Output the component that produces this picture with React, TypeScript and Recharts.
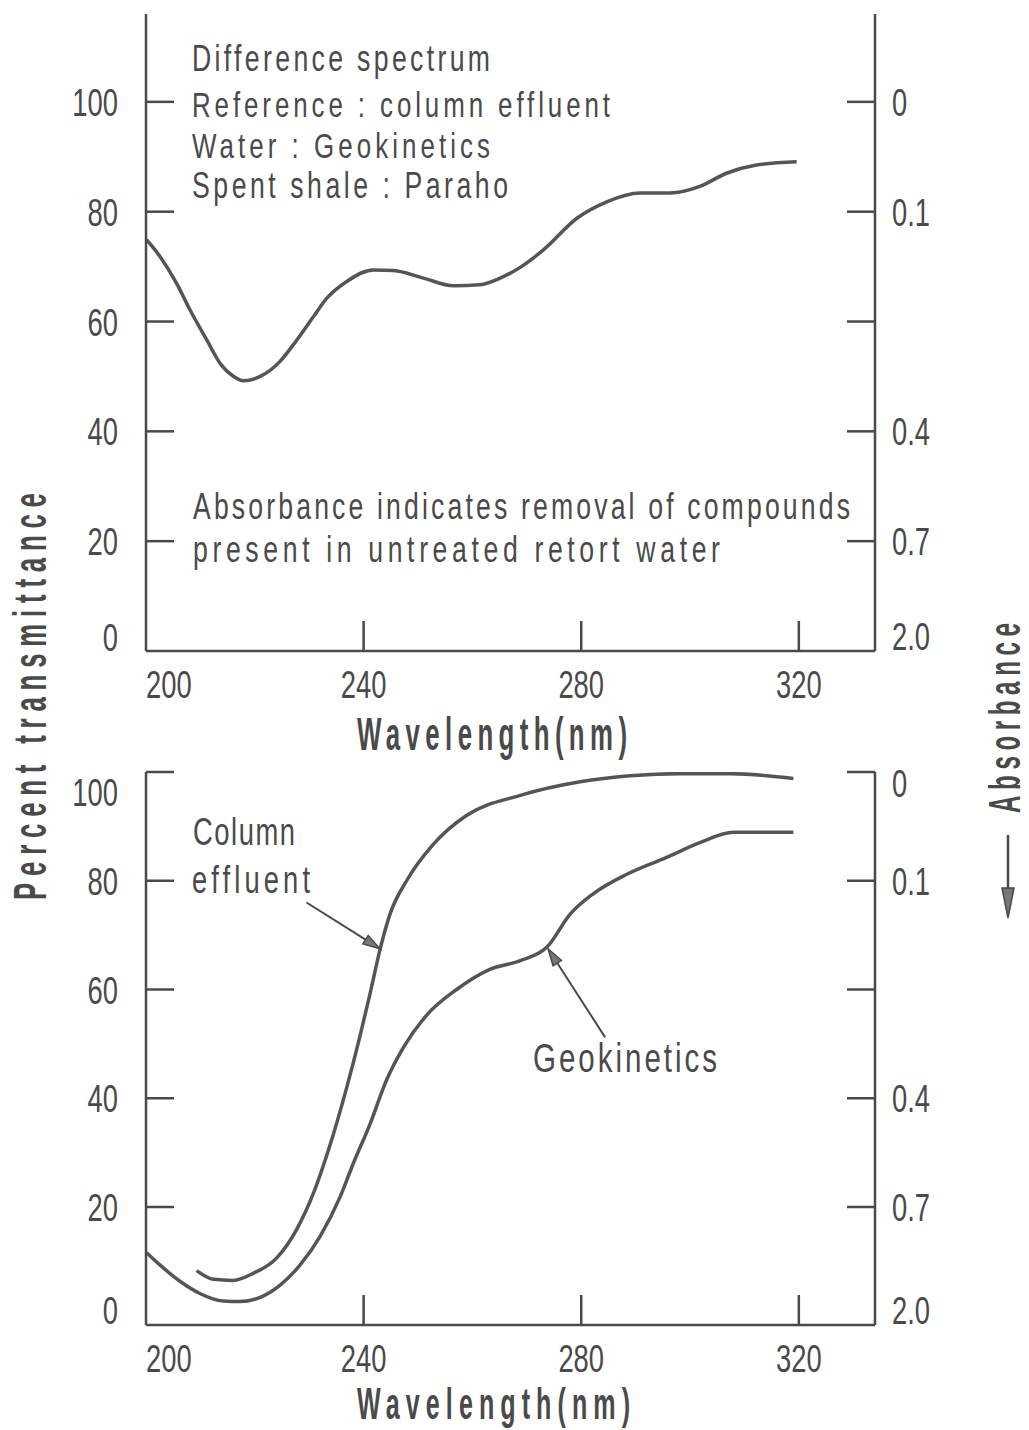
import { Line, LineChart, ReferenceLine, XAxis, YAxis } from "recharts";

const FONT = "'Liberation Sans', Arial, Helvetica, sans-serif";
const INK = "#4a4a4a";

// axes
const wavelengthTicks = [200, 240, 280, 320];
const frameTicks = [240, 280, 320];
const transmittanceTicks = [0, 20, 40, 60, 80, 100];
const absorbanceLabels = ["2.0", "0.7", "0.4", "", "0.1", "0"];

// top panel: difference spectrum (reference = column effluent)
const diffNm = [200.1, 202.6, 205.6, 208.1, 211.2, 213.6, 216.1, 217.9, 221.0, 224.6, 227.7, 230.8, 233.2, 236.9, 241.8, 245.5, 251.0, 256.5, 261.4, 265.1, 269.0, 273.0, 279.2, 284.7, 290.8, 296.3, 301.8, 306.7, 312.2, 319.6];
const diffT = [74.9, 71.8, 67.0, 62.1, 56.6, 52.4, 50.0, 49.2, 50.0, 52.7, 56.6, 60.9, 64.2, 67.3, 69.4, 69.3, 67.9, 66.5, 66.7, 67.9, 70.0, 73.0, 78.8, 81.8, 83.4, 83.4, 84.6, 87.0, 88.5, 89.1];

// bottom panel: column effluent
const effluentNm = [209.3, 212.4, 216.0, 219.7, 224.0, 227.7, 230.8, 233.8, 236.9, 239.3, 241.2, 243.0, 244.9, 247.9, 252.8, 258.9, 268.8, 279.8, 289.0, 298.2, 307.4, 319.0];
const effluentT = [8.3, 6.7, 6.5, 7.8, 10.6, 15.9, 22.6, 31.3, 42.0, 51.3, 59.3, 67.3, 74.0, 80.0, 86.7, 92.0, 95.7, 98.2, 99.3, 99.7, 99.7, 98.8];

// bottom panel: Geokinetics retort water
const geoNm = [200.1, 202.6, 206.3, 209.9, 214.2, 217.3, 221.0, 224.6, 228.3, 232.0, 235.7, 238.1, 241.2, 244.2, 247.3, 251.6, 257.1, 263.2, 268.8, 273.7, 278.0, 282.2, 288.4, 295.7, 301.8, 308.0, 319.0];
const geoT = [11.6, 9.3, 6.3, 4.1, 2.7, 2.6, 3.4, 5.6, 9.3, 14.6, 21.9, 28.0, 35.3, 43.3, 49.3, 55.3, 60.0, 63.7, 65.3, 67.8, 73.9, 77.6, 81.2, 84.3, 87.0, 88.9, 88.9];

// annotation arrows (nm, %T)
const effluentArrow = [{ x: 229.5, y: 76.0 }, { x: 243.0, y: 67.5 }];
const geoArrow = [{ x: 284.4, y: 51.2 }, { x: 273.9, y: 67.5 }];

const toPoints = (nm: number[], t: number[]) => nm.map((x, i) => ({ nm: x, t: t[i] }));

function Txt({ x, y, w, size, sx = 0.72, anchor = "start", rotate = 0, bold = false, children }: any) {
  return (
    <g transform={`translate(${x} ${y}) rotate(${rotate}) scale(${sx} 1)`}>
      <text
        x={0}
        y={0}
        fontSize={size}
        fontFamily={FONT}
        fontWeight={bold ? 700 : 400}
        fill={INK}
        textAnchor={anchor}
        {...(w ? { textLength: w / sx, lengthAdjust: "spacing" } : {})}
      >
        {children}
      </text>
    </g>
  );
}

function leftTick(shift: Record<number, number>) {
  return ({ x, y, payload }: any) => {
    const v = payload.value;
    return (
      <g>
        {v !== 0 && <line x1={x} y1={y} x2={x + 28} y2={y} stroke={INK} strokeWidth={2.5} />}
        <Txt x={x - 28} y={y + 14 + (shift[v] ?? 0)} size={38} anchor="end">
          {String(v)}
        </Txt>
      </g>
    );
  };
}

function rightTick(shift: Record<number, number>) {
  return ({ x, y, payload }: any) => {
    const v = payload.value;
    const label = absorbanceLabels[transmittanceTicks.indexOf(v)];
    return (
      <g>
        {v !== 0 && <line x1={x - 28} y1={y} x2={x} y2={y} stroke={INK} strokeWidth={2.5} />}
        <Txt x={x + 17} y={y + 14 + (shift[v] ?? 0)} size={38}>
          {label}
        </Txt>
      </g>
    );
  };
}

function BottomTick({ x, y, payload }: any) {
  const v = payload.value;
  return (
    <g>
      {v !== 200 && <line x1={x} y1={y} x2={x} y2={y - 30} stroke={INK} strokeWidth={2.5} />}
      <Txt x={x} y={y + 47} size={38} anchor={v === 200 ? "start" : "middle"}>
        {String(v)}
      </Txt>
    </g>
  );
}

function TopTick({ x, y }: any) {
  return <line x1={x} y1={y} x2={x} y2={y + 26} stroke={INK} strokeWidth={2.5} />;
}

function Arrow({ x1, y1, x2, y2 }: any) {
  const a = Math.atan2(y2 - y1, x2 - x1);
  const len = 17;
  const hw = 5;
  const bx = x2 - len * Math.cos(a);
  const by = y2 - len * Math.sin(a);
  const px = -Math.sin(a) * hw;
  const py = Math.cos(a) * hw;
  return (
    <g>
      <line x1={x1} y1={y1} x2={bx} y2={by} stroke={INK} strokeWidth={2} />
      <polygon points={`${x2},${y2} ${bx + px},${by + py} ${bx - px},${by - py}`} fill="#777" stroke={INK} strokeWidth={1.5} />
    </g>
  );
}

function Panel({ series, yDomain, top, height, marginTop, xAxisHeight, leftShift, rightShift, arrows }: any) {
  const axisLine = { stroke: INK, strokeWidth: 2.5 };
  return (
    <div style={{ position: "absolute", left: 0, top, width: 1029, height }}>
      <LineChart width={1029} height={height} margin={{ top: marginTop, right: 0, bottom: 0, left: 0 }}>
        <XAxis
          dataKey="nm"
          type="number"
          domain={[200, 334]}
          ticks={wavelengthTicks}
          interval={0}
          allowDataOverflow
          height={xAxisHeight}
          tickSize={0}
          tickMargin={0}
          tickLine={false}
          axisLine={axisLine}
          tick={BottomTick}
        />
        <XAxis
          xAxisId="top"
          orientation="top"
          type="number"
          domain={[200, 334]}
          ticks={frameTicks}
          interval={0}
          allowDataOverflow
          height={0}
          tickSize={0}
          tickMargin={0}
          tickLine={false}
          axisLine={axisLine}
          tick={TopTick}
        />
        <YAxis
          type="number"
          domain={yDomain}
          ticks={transmittanceTicks}
          interval={0}
          allowDataOverflow
          width={146}
          tickSize={0}
          tickMargin={0}
          tickLine={false}
          axisLine={axisLine}
          tick={leftTick(leftShift)}
        />
        <YAxis
          yAxisId="right"
          orientation="right"
          type="number"
          domain={yDomain}
          ticks={transmittanceTicks}
          interval={0}
          allowDataOverflow
          width={154}
          tickSize={0}
          tickMargin={0}
          tickLine={false}
          axisLine={axisLine}
          tick={rightTick(rightShift)}
        />
        {series.map((s: any) => (
          <Line
            key={s.name}
            name={s.name}
            data={s.data}
            dataKey="t"
            type="monotone"
            stroke="#555"
            strokeWidth={3.5}
            dot={false}
            activeDot={false}
            isAnimationActive={false}
          />
        ))}
        {arrows.map((seg: any, i: number) => (
          <ReferenceLine key={i} segment={seg} shape={Arrow} ifOverflow="visible" />
        ))}
      </LineChart>
    </div>
  );
}

export default function App() {
  const topSeries = [{ name: "Difference spectrum", data: toPoints(diffNm, diffT) }];
  const bottomSeries = [
    { name: "Column effluent", data: toPoints(effluentNm, effluentT) },
    { name: "Geokinetics", data: toPoints(geoNm, geoT) },
  ];

  return (
    <div style={{ position: "absolute", left: 0, top: 0, width: 1029, height: 1430, background: "#fff", overflow: "hidden" }}>
      <Panel
        series={topSeries}
        yDomain={[0, 116]}
        top={0}
        height={720}
        marginTop={14}
        xAxisHeight={69}
        leftShift={{ 0: -14 }}
        rightShift={{ 0: -15 }}
        arrows={[]}
      />
      <Panel
        series={bottomSeries}
        yDomain={[-1.7, 100]}
        top={700}
        height={730}
        marginTop={72}
        xAxisHeight={105}
        leftShift={{ 100: 20, 0: -6 }}
        rightShift={{ 100: 11, 0: -6 }}
        arrows={[effluentArrow, geoArrow]}
      />
      <svg width={1029} height={1430} style={{ position: "absolute", left: 0, top: 0, pointerEvents: "none" }}>
        <Txt x={192} y={71} w={298} size={37}>Difference spectrum</Txt>
        <Txt x={192} y={117} w={418} size={36}>Reference : column effluent</Txt>
        <Txt x={192} y={158} w={298} size={36}>Water : Geokinetics</Txt>
        <Txt x={192} y={198} w={316} size={37}>Spent shale : Paraho</Txt>
        <Txt x={193} y={519} w={657} size={37}>Absorbance indicates removal of compounds</Txt>
        <Txt x={193} y={562} w={527} size={37}>present in untreated retort water</Txt>
        <Txt x={357} y={750} w={270} size={47} sx={0.55} bold>Wavelength(nm)</Txt>

        <Txt x={193} y={845} w={102} size={38}>Column</Txt>
        <Txt x={192} y={893} w={118} size={38}>effluent</Txt>
        <Txt x={533} y={1072} w={184} size={41}>Geokinetics</Txt>
        <Txt x={357} y={1419} w={273} size={44} sx={0.57} bold>Wavelength(nm)</Txt>

        <Txt x={46} y={900} w={407} size={47} sx={0.55} bold rotate={-90}>Percent transmittance</Txt>
        <Txt x={1020} y={813} w={190} size={44} sx={0.55} bold rotate={-90}>Absorbance</Txt>
        <line x1={1008} y1={835} x2={1008} y2={892} stroke={INK} strokeWidth={2.5} />
        <polygon points="1008,918 1002,888 1014,888" fill="#777" stroke={INK} strokeWidth={1.5} />
      </svg>
    </div>
  );
}
